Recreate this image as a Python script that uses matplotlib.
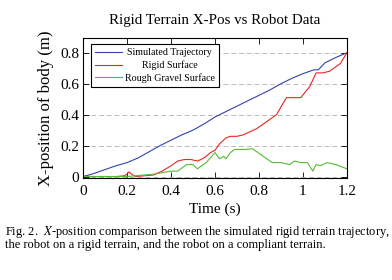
import matplotlib
matplotlib.use("Agg")
import matplotlib.pyplot as plt

plt.rcParams['font.family'] = ['Liberation Serif', 'DejaVu Serif']
plt.rcParams['mathtext.fontset'] = 'stix'

# data
t_sim = [0, 0.05, 0.1, 0.15, 0.2, 0.25, 0.3, 0.35, 0.4, 0.45, 0.5, 0.55, 0.6,
         0.65, 0.7, 0.75, 0.8, 0.85, 0.9, 0.95, 1.0, 1.05, 1.07, 1.1, 1.15, 1.2]
x_sim = [0, 0.02, 0.045, 0.07, 0.09, 0.12, 0.16, 0.2, 0.235, 0.27, 0.3, 0.34, 0.385,
         0.42, 0.455, 0.49, 0.525, 0.56, 0.6, 0.635, 0.665, 0.69, 0.69, 0.735, 0.77, 0.8]

t_rigid = [0, 0.05, 0.1, 0.15, 0.19, 0.21, 0.22, 0.24, 0.28, 0.32, 0.36, 0.4, 0.43,
           0.46, 0.49, 0.52, 0.55, 0.58, 0.6, 0.62, 0.65, 0.67, 0.7, 0.73, 0.76, 0.79,
           0.82, 0.85, 0.88, 0.9, 0.925, 0.95, 0.99, 1.03, 1.06, 1.09, 1.12, 1.15, 1.17, 1.2]
x_rigid = [0.002, 0.0, 0.0, 0.0, 0.005, 0.03, 0.015, 0.0, 0.005, 0.01, 0.035, 0.07, 0.10,
           0.11, 0.11, 0.10, 0.12, 0.155, 0.17, 0.21, 0.25, 0.26, 0.26, 0.27, 0.29, 0.31,
           0.34, 0.37, 0.40, 0.45, 0.51, 0.51, 0.51, 0.58, 0.67, 0.67, 0.68, 0.71, 0.73, 0.80]

t_gravel = [0, 0.1, 0.2, 0.24, 0.28, 0.32, 0.36, 0.4, 0.43, 0.47, 0.5, 0.52, 0.56, 0.6,
            0.62, 0.64, 0.65, 0.67, 0.69, 0.74, 0.77, 0.82, 0.86, 0.9, 0.94, 0.96, 0.99,
            1.02, 1.045, 1.06, 1.08, 1.11, 1.15, 1.2]
x_gravel = [0, 0, 0, 0.005, 0.01, 0.015, 0.025, 0.035, 0.035, 0.077, 0.077, 0.05, 0.09, 0.155,
            0.115, 0.13, 0.115, 0.155, 0.175, 0.175, 0.18, 0.13, 0.09, 0.09, 0.077, 0.10, 0.09,
            0.09, 0.035, 0.077, 0.07, 0.09, 0.077, 0.05]

xticks = [0, 0.2, 0.4, 0.6, 0.8, 1.0, 1.2]
xticklabels = ['0', '0.2', '0.4', '0.6', '0.8', '1', '1.2']
yticks = [0, 0.2, 0.4, 0.6, 0.8]
yticklabels = ['0', '0.2', '0.4', '0.6', '0.8']

fig = plt.figure(figsize=(3.92, 2.80), dpi=100)
ax = fig.add_axes([0.212, 0.364, 0.673, 0.5])

ax.plot(t_sim, x_sim, color='#3344aa', lw=0.8, label='Simulated Trajectory')
ax.plot(t_rigid, x_rigid, color='#ee2222', lw=0.8, label='Rigid Surface')
ax.plot(t_gravel, x_gravel, color='#55bb33', lw=0.8, label='Rough Gravel Surface')

ax.set_xlim(0, 1.2)
ax.set_ylim(-0.01, 0.895)
ax.set_xticks(xticks)
ax.set_xticklabels(xticklabels)
ax.set_yticks(yticks)
ax.set_yticklabels(yticklabels)
ax.tick_params(direction='in', top=True, right=True, labelsize=11, length=4, width=0.6, pad=3)
ax.tick_params(axis='x', pad=5)
ax.yaxis.grid(True, ls=(0, (5, 3)), color='#bbbbbb', lw=0.7)
for s in ax.spines.values():
    s.set_linewidth(0.8)

ax.set_title('Rigid Terrain X-Pos vs Robot Data', fontsize=10.8, pad=10)
ax.set_xlabel('Time (s)', fontsize=11, labelpad=3)
ax.set_ylabel('X-position of body (m)', fontsize=12, labelpad=4)

leg = ax.legend(loc='upper left', fontsize=7.2, fancybox=False, edgecolor='black',
                framealpha=1, borderpad=0.4, handlelength=2.7, handletextpad=0.3,
                labelspacing=0.3, bbox_to_anchor=(0.01, 0.99))
leg.get_frame().set_linewidth(0.8)

# center the shorter legend texts like pgfplots does
fig.canvas.draw()
r = fig.canvas.get_renderer()
widths = [tx.get_window_extent(r).width for tx in leg.get_texts()]
wmax = max(widths)
for tx, w in zip(leg.get_texts(), widths):
    tx.set_position(((wmax - w) / 2, 0))

fig.text(0.013, 0.16, 'Fig. 2.  $X$-position comparison between the simulated rigid terrain trajectory,',
         fontsize=9)
fig.text(0.013, 0.113, 'the robot on a rigid terrain, and the robot on a compliant terrain.',
         fontsize=9)

fig.savefig('out.png', dpi=100)
